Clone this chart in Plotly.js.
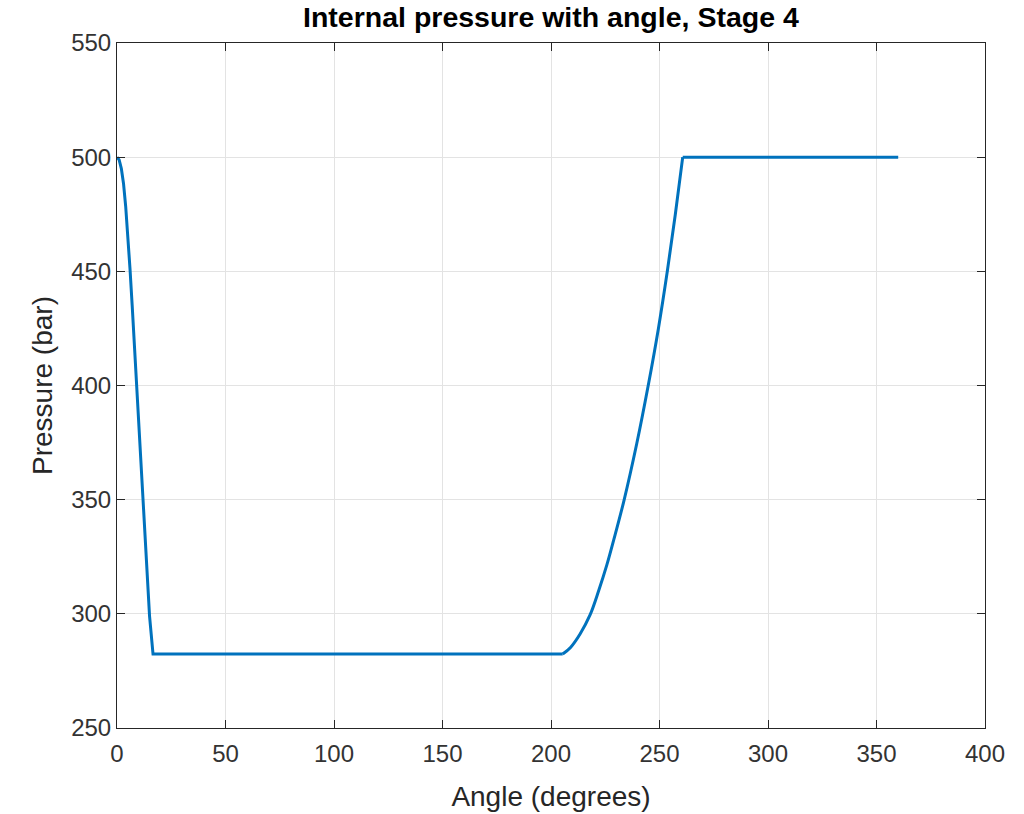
<!DOCTYPE html>
<html>
<head>
<meta charset="utf-8">
<script src="https://cdn.plot.ly/plotly-3.0.1.min.js"></script>
<style>html,body{margin:0;padding:0;background:#fff;}#chart{width:1024px;height:814px;}</style>
</head>
<body>
<div id="chart"></div>
<script>
// Pressure drop and low plateau
const dropAngle = [0, 1, 2, 3, 4, 5, 6, 7, 8, 9, 10, 11, 12, 13, 14, 15, 16.6, 205.4];
const dropPressure = [500, 498.8, 495, 488.5, 478.5, 466, 451, 435, 418, 401, 384, 367, 350, 333, 316, 299, 282.4, 282.4];
// Pressure rise
const riseAngle = [205.4, 209, 213.4, 218, 222, 225.7, 229.5, 233.6, 239.5, 244.8, 249.5, 253.6, 257.3, 260.7];
const risePressure = [282.4, 285.3, 291.2, 299.5, 310.2, 321.3, 334.5, 349.5, 374.5, 400, 425, 450, 475, 500];
// High plateau
const highAngle = [260.7, 360];
const highPressure = [500, 500];

const xTicks = [0, 50, 100, 150, 200, 250, 300, 350, 400];
const yTicks = [250, 300, 350, 400, 450, 500, 550];

const font = "Liberation Sans, Arial, Helvetica, sans-serif";
const lineStyle = {color: '#0072BD', width: 3};
const axisCommon = {
  showline: true, linecolor: '#262626', linewidth: 1, mirror: 'ticks',
  ticks: 'inside', ticklen: 8, tickcolor: '#262626', tickwidth: 1,
  showgrid: true, gridcolor: '#e3e3e3', gridwidth: 1, zeroline: false,
  tickfont: {family: font, size: 24, color: '#333333'},
  tickmode: 'array'
};

Plotly.newPlot('chart', [
  {x: dropAngle, y: dropPressure, type: 'scatter', mode: 'lines', line: lineStyle},
  {x: riseAngle, y: risePressure, type: 'scatter', mode: 'lines', line: Object.assign({shape: 'spline', smoothing: 1}, lineStyle)},
  {x: highAngle, y: highPressure, type: 'scatter', mode: 'lines', line: lineStyle}
], {
  width: 1024, height: 814,
  margin: {l: 117, r: 39, t: 43, b: 86},
  paper_bgcolor: '#ffffff', plot_bgcolor: '#ffffff',
  showlegend: false,
  title: {text: '<b>Internal pressure with angle, Stage 4</b>', font: {family: font, size: 28.5, color: '#000'}, x: 0.538, xanchor: 'center', y: 0.979, yanchor: 'middle'},
  xaxis: Object.assign({}, axisCommon, {
    range: [0, 400], tickvals: xTicks, ticktext: xTicks.map(String), ticklabelstandoff: 4,
    title: {text: 'Angle (degrees)', font: {family: font, size: 28, color: '#262626'}, standoff: 20}
  }),
  yaxis: Object.assign({}, axisCommon, {
    range: [250, 550], tickvals: yTicks, ticktext: yTicks.map(String),
    title: {text: 'Pressure (bar)', font: {family: font, size: 28, color: '#262626'}, standoff: 10}
  })
}, {displayModeBar: false, staticPlot: true});
</script>
</body>
</html>
